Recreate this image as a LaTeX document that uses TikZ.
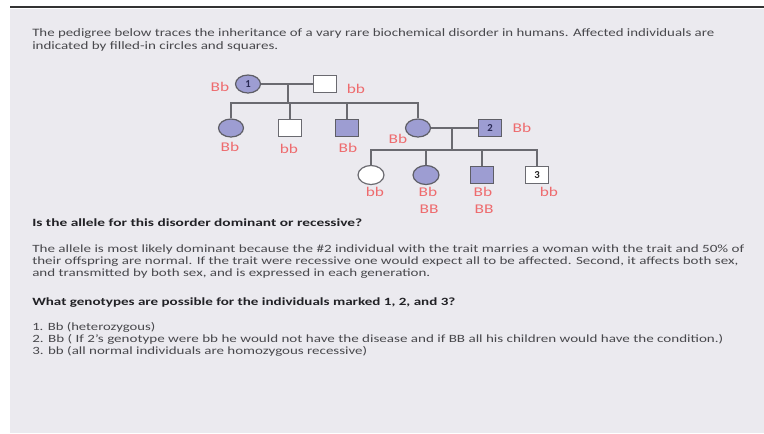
\documentclass[tikz,border=0pt]{standalone}
\usepackage{fontspec}
\setmainfont{Carlito}
\usetikzlibrary{shapes.geometric}
\newlength\pxu
\setlength\pxu{0.75pt}
% set one line of text stretched to a given width (in px), keeping its height
\newcommand\fitline[2]{\resizebox{#1\pxu}{\height}{#2}}
\newcommand\wide[1]{\scalebox{1.3}[1]{#1}}
\definecolor{panel}{HTML}{EBEAEF}
\definecolor{bodytext}{HTML}{48484C}
\definecolor{headtext}{HTML}{222226}
\definecolor{geno}{HTML}{EE6B6E}
\definecolor{affected}{HTML}{9D9DD2}
\definecolor{edge}{HTML}{5E5E66}
\definecolor{pedline}{HTML}{6A6A70}
\definecolor{numtext}{HTML}{2A2A55}
\tikzset{
  txt/.style={anchor=base west, inner sep=0pt, text=bodytext, font=\fontsize{8.3}{10}\selectfont},
  head/.style={txt, text=headtext, font=\fontsize{8.3}{10}\selectfont\bfseries},
  title/.style={txt, font=\fontsize{8.5}{10}\selectfont},
  fem/.style={ellipse, minimum width=25\pxu, minimum height=18\pxu, inner sep=0pt, line width=0.9pt},
  femthree/.style={fem, minimum width=26\pxu, minimum height=19\pxu},
  mal/.style={rectangle, minimum width=23\pxu, minimum height=17\pxu, inner sep=0pt, line width=0.9pt},
  aff/.style={fill=affected, draw=edge},
  unaff/.style={fill=white, draw=pedline},
  gt/.style={inner sep=0pt, text=geno, font=\fontsize{10}{12}\selectfont},
  idno/.style={text=numtext, font=\fontsize{8}{9}\selectfont\bfseries},
  link/.style={draw=pedline, line width=1.1pt},
}
\begin{document}
\begin{tikzpicture}[x=0.75pt, y=-0.75pt]
\useasboundingbox (0,0) rectangle (764,433);
\fill[white] (0,0) rectangle (764,433);
\fill[panel] (10,9) rectangle (764,433);
\draw[color=black!80, line width=1.5pt] (10,7) -- (764,7);

% introductory text
\node[title] (t1) at (32,36) {\fitline{682}{The pedigree below traces the inheritance of a vary rare biochemical disorder in humans. Affected individuals are}};
\node[title] (t2) at (32,49) {\fitline{246}{indicated by filled-in circles and squares.}};

% generation I
\node[fem, aff] (I1) at (248,84) {};
\node[idno] (n1) at (I1) {1};
\node[mal, unaff] (I2) at (325,84) {};
\draw[link] (I1.east) -- (I2.west);
\coordinate (m1) at (288,84);
\coordinate (s1) at (288,103);
\draw[link] (m1) -- (s1);

% generation II
\node[fem, aff] (II1) at (231,128) {};
\node[mal, unaff] (II2) at (290,128) {};
\node[mal, aff] (II3) at (347,128) {};
\node[fem, aff] (II4) at (418,128) {};
\node[mal, aff] (II5) at (490,128) {};
\node[idno] (n2) at (II5) {2};
\draw[link] (II1.north) -- (II1.north |- s1) -- (II4.north |- s1) -- (II4.north);
\draw[link] (II2.north) -- (II2.north |- s1);
\draw[link] (II3.north) -- (II3.north |- s1);
\draw[link] (II4.east) -- (II5.west);
\coordinate (m2) at (452,128);
\coordinate (s2) at (452,150);
\draw[link] (m2) -- (s2);

% generation III
\node[femthree, unaff] (III1) at (371,175) {};
\node[femthree, aff] (III2) at (426,175) {};
\node[mal, aff] (III3) at (482,175) {};
\node[mal, unaff] (III4) at (537,175) {};
\node[idno, text=black!85] (n3) at (III4) {3};
\draw[link] (III1.north) -- (III1.north |- s2) -- (III4.north |- s2) -- (III4.north);
\draw[link] (III2.north) -- (III2.north |- s2);
\draw[link] (III3.north) -- (III3.north |- s2);

% genotypes
\node[gt] (g1) at (220,87) {\wide{Bb}};
\node[gt] (g2) at (356,89) {\wide{bb}};
\node[gt] (g3) at (230,147) {\wide{Bb}};
\node[gt] (g4) at (289,149) {\wide{bb}};
\node[gt] (g5) at (348,148) {\wide{Bb}};
\node[gt] (g6) at (398,139) {\wide{Bb}};
\node[gt] (g7) at (522,128) {\wide{Bb}};
\node[gt] (g8) at (375,192) {\wide{bb}};
\node[gt] (g9) at (428,192) {\wide{Bb}};
\node[gt] (g10) at (429,209) {\wide{BB}};
\node[gt] (g11) at (483,192) {\wide{Bb}};
\node[gt] (g12) at (484,209) {\wide{BB}};
\node[gt] (g13) at (549,192) {\wide{bb}};

% question 1
\node[head] (q1) at (32,226) {\fitline{330}{Is the allele for this disorder dominant or recessive?}};
\node[txt] (a1) at (32,252) {\fitline{712}{The allele is most likely dominant because the \#2 individual with the trait marries a woman with the trait and 50\% of}};
\node[txt] (a2) at (32,264) {\fitline{706}{their offspring are normal. If the trait were recessive one would expect all to be affected. Second, it affects both sex,}};
\node[txt] (a3) at (32,276) {\fitline{398}{and transmitted by both sex, and is expressed in each generation.}};

% question 2
\node[head] (q2) at (32,305) {\fitline{423}{What genotypes are possible for the individuals marked 1, 2, and 3?}};
\node[txt] (b1) at (32,330) {\fitline{123}{1. Bb (heterozygous)}};
\node[txt] (b2) at (32,342) {\fitline{691}{2. Bb ( If 2's genotype were bb he would not have the disease and if BB all his children would have the condition.)}};
\node[txt] (b3) at (32,354) {\fitline{335}{3. bb (all normal individuals are homozygous recessive)}};
\end{tikzpicture}
\end{document}
